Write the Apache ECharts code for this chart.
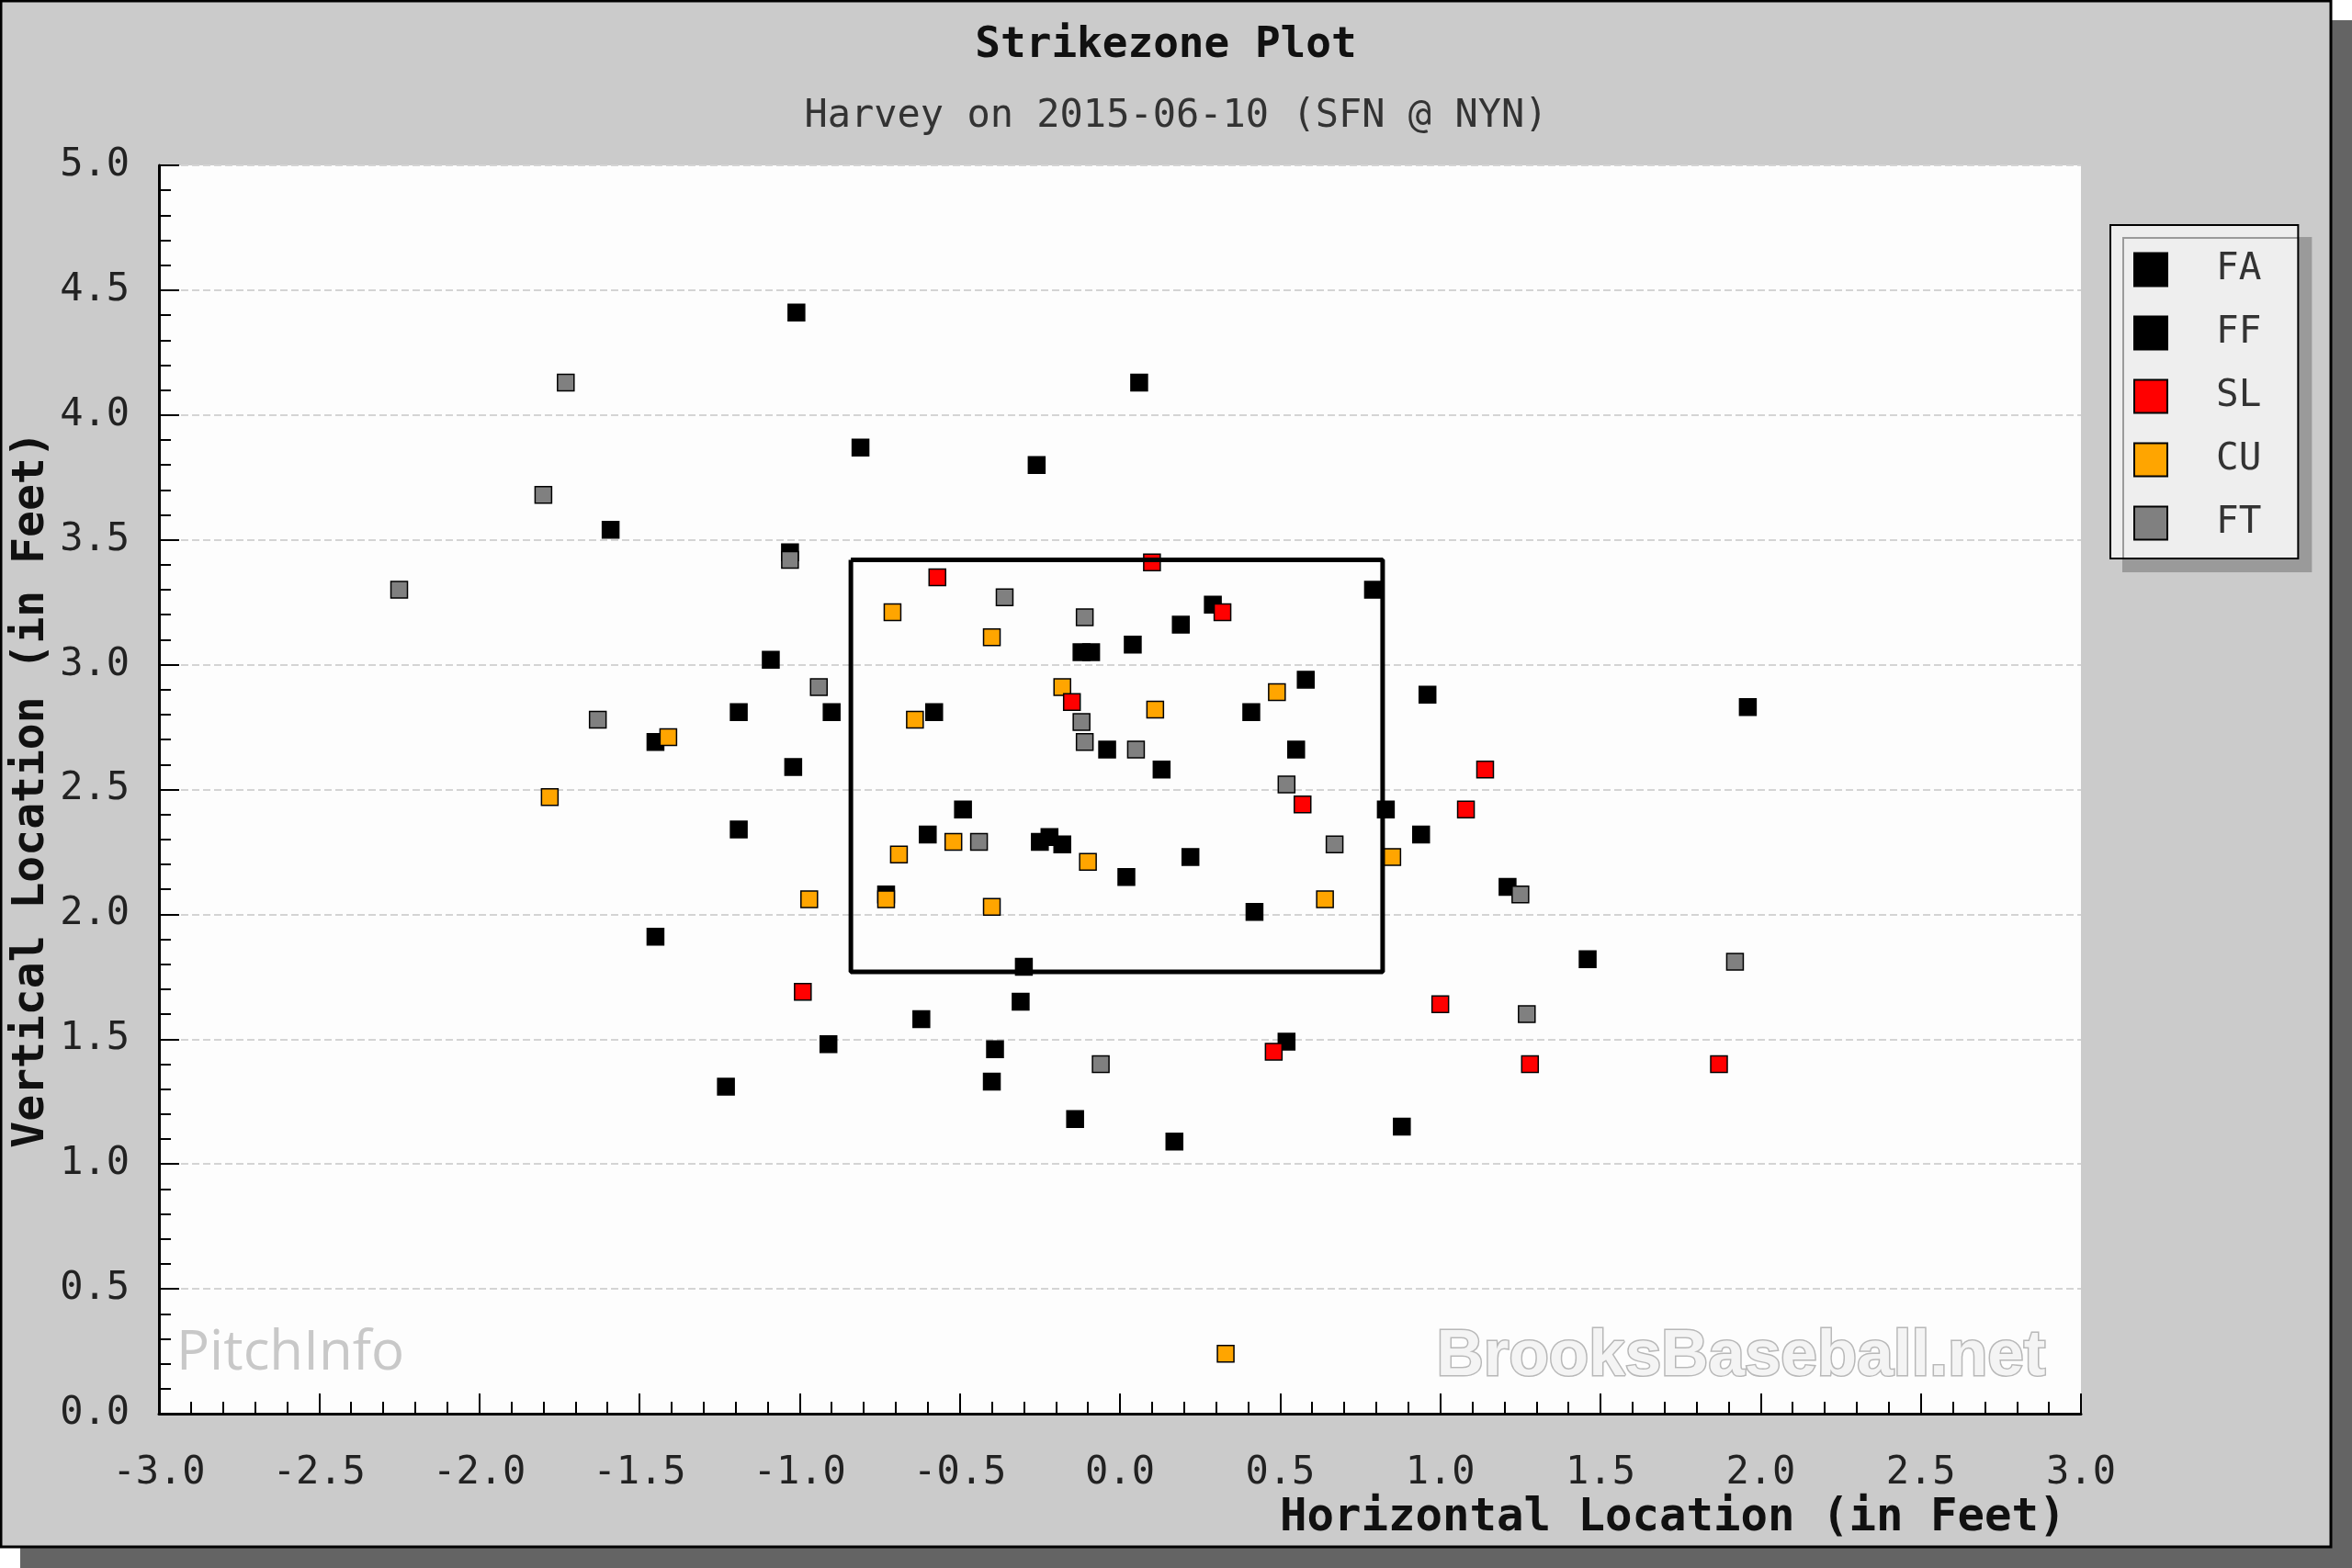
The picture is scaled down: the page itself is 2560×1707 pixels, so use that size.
<!DOCTYPE html>
<html>
<head>
<meta charset="utf-8">
<title>Strikezone Plot</title>
<script src="https://cdn.jsdelivr.net/npm/echarts@6/dist/echarts.min.js"></script>
<style>
  html, body { margin: 0; padding: 0; background: #fff; }
  #main { width: 2560px; height: 1707px; }
</style>
</head>
<body>
<div id="main"></div>
<script>
// pitch locations [horizontal ft, vertical ft]
var pitchTypes = ['FA', 'FF', 'SL', 'CU', 'FT'];

var faPoints = [[-1.01, 4.41], [1.96, 2.83], [1.46, 1.82]];

var ffPoints = [
  [0.06, 4.13], [-0.81, 3.87], [-0.26, 3.80], [-1.59, 3.54], [-1.03, 3.45],
  [0.79, 3.30], [0.29, 3.24], [0.19, 3.16], [0.04, 3.08], [-0.12, 3.05],
  [-0.09, 3.05], [-1.09, 3.02], [0.96, 2.88], [-1.19, 2.81], [-0.90, 2.81],
  [-0.58, 2.81], [0.41, 2.81], [0.58, 2.94], [-1.45, 2.69], [-1.02, 2.59],
  [-0.04, 2.66], [0.55, 2.66], [0.13, 2.58], [-0.49, 2.42], [0.83, 2.42],
  [-1.19, 2.34], [-0.60, 2.32], [0.94, 2.32], [-0.25, 2.29], [-0.22, 2.31],
  [-0.18, 2.28], [0.22, 2.23], [0.02, 2.15], [1.21, 2.11], [-0.73, 2.08],
  [0.42, 2.01], [-1.45, 1.91], [-0.30, 1.79], [-0.31, 1.65], [-0.62, 1.58],
  [0.52, 1.49], [-0.91, 1.48], [-0.39, 1.46], [-1.23, 1.31], [-0.40, 1.33],
  [-0.14, 1.18], [0.88, 1.15], [0.17, 1.09]
];

var slPoints = [
  [-0.57, 3.35], [0.10, 3.41], [0.32, 3.21], [-0.15, 2.85], [1.14, 2.58],
  [0.57, 2.44], [1.08, 2.42], [-0.99, 1.69], [1.00, 1.64], [0.48, 1.45],
  [1.28, 1.40], [1.87, 1.40]
];

var cuPoints = [
  [-0.71, 3.21], [-0.40, 3.11], [-0.18, 2.91], [0.49, 2.89], [-0.64, 2.78],
  [0.11, 2.82], [-1.41, 2.71], [-1.78, 2.47], [-0.52, 2.29], [-0.69, 2.24],
  [-0.10, 2.21], [0.85, 2.23], [-0.97, 2.06], [-0.73, 2.06], [0.64, 2.06],
  [-0.40, 2.03], [0.33, 0.24]
];

var ftPoints = [
  [-1.73, 4.13], [-1.80, 3.68], [-2.25, 3.30], [-1.03, 3.42], [-0.36, 3.27],
  [-0.11, 3.19], [-0.94, 2.91], [-1.63, 2.78], [-0.12, 2.77], [-0.11, 2.69],
  [0.05, 2.66], [0.52, 2.52], [-0.44, 2.29], [0.67, 2.28], [1.25, 2.08],
  [1.92, 1.81], [1.27, 1.60], [-0.06, 1.40]
];

// strike zone outline
var zoneX = [-0.84, 0.82, 0.82, -0.84, -0.84];
var zoneY = [3.42, 3.42, 1.77, 1.77, 3.42];

var typeColors = { FA: '#000000', FF: '#000000', SL: '#ff0000', CU: '#ffa500', FT: '#808080' };
var typeData = { FA: faPoints, FF: ffPoints, SL: slPoints, CU: cuPoints, FT: ftPoints };

var mono = "'DejaVu Sans Mono', 'Liberation Mono', monospace";
var chart = echarts.init(document.getElementById('main'));

function pitchSeries(name) {
  return {
    name: name,
    type: 'scatter',
    symbol: 'rect',
    symbolSize: 18,
    data: typeData[name],
    itemStyle: { color: typeColors[name], borderColor: '#000', borderWidth: 1.5, opacity: 1 },
    emphasis: { disabled: true },
    z: 3
  };
}

var zoneData = zoneX.map(function (x, i) { return [x, zoneY[i]]; });

var option = {
  backgroundColor: '#ffffff',
  animation: false,
  graphic: [
    { type: 'rect', z: -101, shape: { x: 22, y: 22, width: 2538, height: 1685 }, style: { fill: '#646464' } },
    { type: 'rect', z: -100, shape: { x: 1, y: 1, width: 2536, height: 1683 }, style: { fill: '#cbcbcb', stroke: '#000', lineWidth: 3 } },
    { type: 'text', z: 1, left: 192, top: 1444, style: { text: 'PitchInfo', font: "60px 'Open Sans', sans-serif", fill: '#c8c8c8' } },
    { type: 'text', z: 1, left: 1562, top: 1440, style: { text: 'BrooksBaseball.net', font: "bold 71px 'Liberation Sans', Arial, sans-serif", fill: '#f4f4f4', stroke: '#b8b8b8', lineWidth: 3 } }
  ],
  title: [
    { text: 'Strikezone Plot', left: 1269, top: 27, textAlign: 'center', padding: 0,
      textStyle: { fontFamily: mono, fontWeight: 'bold', fontSize: 46, color: '#111' } },
    { text: 'Harvey on 2015-06-10 (SFN @ NYN)', left: 1280, top: 106, textAlign: 'center', padding: 0,
      textStyle: { fontFamily: mono, fontWeight: 'normal', fontSize: 42, color: '#333' } }
  ],
  legend: {
    data: pitchTypes,
    orient: 'vertical',
    left: 2297,
    top: 245,
    padding: [28, 40, 18, 25],
    itemWidth: 36,
    itemHeight: 36,
    itemGap: 28,
    icon: 'rect',
    backgroundColor: '#eeeeee',
    borderColor: '#000',
    borderWidth: 2,
    shadowColor: '#9a9a9a',
    shadowBlur: 0,
    shadowOffsetX: 14,
    shadowOffsetY: 14,
    selectedMode: false,
    textStyle: { fontFamily: mono, fontSize: 41, color: '#333', padding: [0, 0, 0, 48] }
  },
  grid: {
    left: 173, right: 295, top: 180, bottom: 168,
    containLabel: false,
    outerBoundsMode: 'none',
    show: true, backgroundColor: '#fdfdfd', borderWidth: 0
  },
  xAxis: {
    type: 'value', min: -3, max: 3, interval: 0.5,
    name: 'Horizontal Location (in Feet)',
    nameLocation: 'end',
    nameGap: -872,
    nameMoveOverlap: false,
    nameTextStyle: { fontFamily: mono, fontWeight: 'bold', fontSize: 49, color: '#111',
      verticalAlign: 'top', padding: [90, 0, 0, 0] },
    axisLine: { onZero: false, lineStyle: { color: '#000', width: 3 } },
    axisTick: { inside: true, length: 22, lineStyle: { color: '#000', width: 2 } },
    minorTick: { show: true, splitNumber: 5, length: 13, lineStyle: { color: '#000', width: 2 } },
    axisLabel: { margin: 44, fontFamily: mono, fontSize: 42, color: '#222',
      formatter: function (v) { return v.toFixed(1); } },
    splitLine: { show: false }
  },
  yAxis: {
    type: 'value', min: 0, max: 5, interval: 0.5,
    name: 'Vertical Location (in Feet)',
    nameLocation: 'middle',
    nameGap: 114,
    nameMoveOverlap: false,
    nameTextStyle: { fontFamily: mono, fontWeight: 'bold', fontSize: 48, color: '#111' },
    axisLine: { onZero: false, lineStyle: { color: '#000', width: 3 } },
    axisTick: { inside: true, length: 22, lineStyle: { color: '#000', width: 2 } },
    minorTick: { show: true, splitNumber: 5, length: 13, lineStyle: { color: '#000', width: 2 } },
    axisLabel: { margin: 32, fontFamily: mono, fontSize: 42, color: '#222',
      formatter: function (v) { return v.toFixed(1); } },
    splitLine: { show: true, lineStyle: { color: '#d4d4d4', width: 2, type: [8, 4] } }
  },
  series: [
    pitchSeries('FA'),
    pitchSeries('FF'),
    pitchSeries('CU'),
    pitchSeries('SL'),
    pitchSeries('FT'),
    {
      name: 'zone',
      type: 'line',
      data: zoneData,
      symbol: 'none',
      silent: true,
      z: 4,
      lineStyle: { color: '#000', width: 5 }
    }
  ]
};

chart.setOption(option);
</script>
</body>
</html>
